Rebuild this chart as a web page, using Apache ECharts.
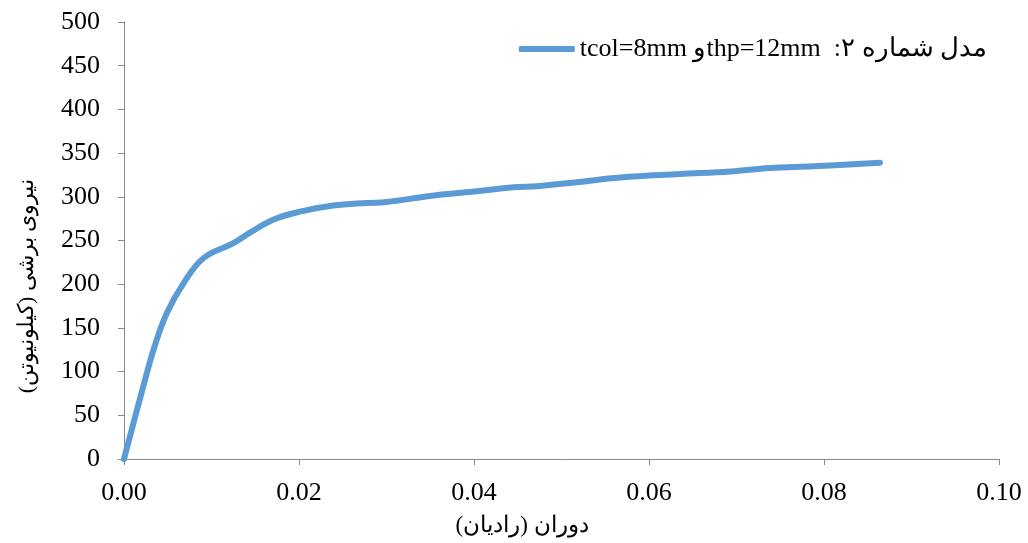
<!DOCTYPE html>
<html><head><meta charset="utf-8">
<script src="https://cdn.jsdelivr.net/npm/echarts@6/dist/echarts.min.js"></script>
<style>html,body{margin:0;padding:0;background:#fff}#c{width:1028px;height:543px}</style>
</head><body><div id="c"></div>
<script>
const rotation = [0, 0.0022, 0.0035, 0.0049, 0.0068, 0.0091, 0.0125, 0.0144, 0.0171, 0.0201, 0.0239, 0.0277, 0.0300, 0.0350, 0.0400, 0.0445, 0.0472, 0.0520, 0.0567, 0.0635, 0.0693, 0.0738, 0.0788, 0.0864];
const shear    = [0, 83, 129, 167, 201, 230, 247, 259, 274, 283, 290, 293, 294, 301, 306, 311, 312, 317, 322, 326, 329, 333, 335, 339];
const seriesName = '\u202Bمدل شماره ۲:  thp=12mmو tcol=8mm\u202C';
const xName = 'دوران (رادیان)';
const yName = 'نیروی برشی (کیلونیوتن)';
const FONT = 'Liberation Serif';
const AXIS = '#898989';
const chart = echarts.init(document.getElementById('c'));
chart.setOption({
  animation: false,
  grid: {left: 124, right: 29, top: 22, bottom: 84, containLabel: false, outerBoundsMode: 'none'},
  legend: {
    right: 36, top: 31,
    itemWidth: 56, itemHeight: 6, itemGap: 4,
    data: [{name: seriesName, icon: 'roundRect'}],
    textStyle: {fontFamily: FONT, fontSize: 26, color: '#000'}
  },
  graphic: [{
    type: 'text', rotation: Math.PI / 2,
    style: {text: yName, fontFamily: FONT, fontSize: 22, fill: '#000', align: 'center', verticalAlign: 'middle'},
    x: 27, y: 286
  }, {
    type: 'text',
    style: {text: xName, fontFamily: FONT, fontSize: 23, fill: '#000', align: 'center', verticalAlign: 'middle'},
    x: 522, y: 526
  }],
  xAxis: {
    type: 'value', min: 0, max: 0.1, interval: 0.02,
    axisLine: {lineStyle: {color: AXIS, width: 1}},
    axisTick: {show: true, length: 6, lineStyle: {color: AXIS}},
    axisLabel: {formatter: v => v.toFixed(2), fontFamily: FONT, fontSize: 26, color: '#000', margin: 21},
    splitLine: {show: false}
  },
  yAxis: {
    type: 'value', min: 0, max: 500, interval: 50,
    axisLine: {show: true, lineStyle: {color: AXIS, width: 1}},
    axisTick: {show: true, length: 6, lineStyle: {color: AXIS}},
    axisLabel: {fontFamily: FONT, fontSize: 26, color: '#000', margin: 24},
    splitLine: {show: false}
  },
  series: [{
    name: seriesName, type: 'line', smooth: 0.4, showSymbol: false,
    data: rotation.map((x, i) => [x, shear[i]]),
    itemStyle: {color: '#5B9BD5'},
    lineStyle: {color: '#5B9BD5', width: 6, cap: 'round', join: 'round'}
  }]
});
</script></body></html>
